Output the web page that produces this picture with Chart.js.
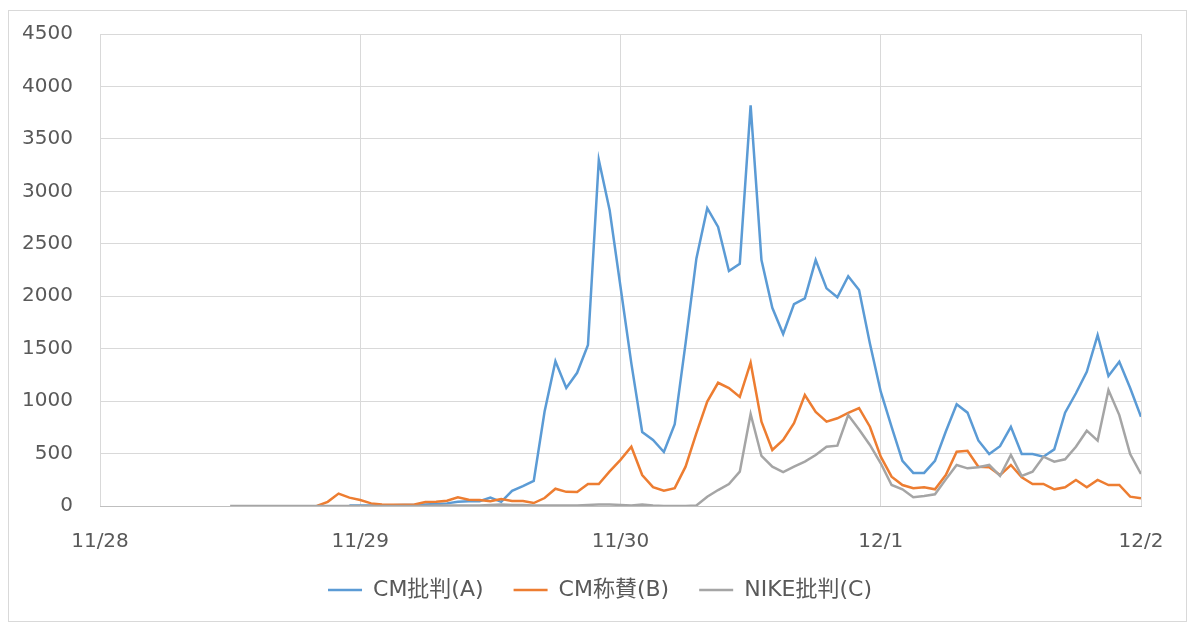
<!DOCTYPE html>
<html>
<head>
<meta charset="utf-8">
<script src="https://cdn.jsdelivr.net/npm/chart.js@4"></script>
<style>
  body { margin: 0; background: #fff; }
  #wrap { position: relative; width: 1200px; height: 630px; }
  #frame { position: absolute; left: 8px; top: 10px; width: 1177px; height: 610px; border: 1px solid #d9d9d9; pointer-events: none; }
</style>
</head>
<body>
<div id="wrap">
  <canvas id="chart" width="1200" height="630"></canvas>
  <div id="frame"></div>
</div>
<script>
// hourly counts, 11/28 0:00 .. 12/2 0:00 (97 points)
const dayLabels = ['11/28', '11/29', '11/30', '12/1', '12/2'];
const seriesNames = ['CM批判(A)', 'CM称賛(B)', 'NIKE批判(C)'];

const cmCritic = [
  null, null, null, null, null, null, null, null, null, null, null, null,
  null, null, null, null, null, null, null, null, null, null, null, 5,
  5, 5, 5, 8, 10, 10, 15, 20, 25, 40, 45, 45,
  80, 40, 145, 190, 240, 900, 1380, 1125, 1270, 1535, 3300, 2820,
  2090, 1360, 705, 630, 515, 780, 1550, 2360, 2840, 2660, 2240, 2310,
  3820, 2345, 1890, 1640, 1925, 1980, 2345, 2075, 1990, 2190, 2060, 1550,
  1090, 755, 430, 315, 315, 430, 710, 970, 890, 625, 495, 570,
  755, 495, 495, 470, 540, 890, 1075, 1280, 1630, 1240, 1375, 1125,
  850
];
const cmPraise = [
  null, null, null, null, null, null, null, null, null, null, null, null,
  null, null, null, null, null, null, null, null, 0, 40, 118, 80,
  57, 25, 15, 12, 12, 15, 38, 40, 50, 83, 60, 57,
  45, 67, 48, 48, 28, 76, 165, 135, 133, 210, 210, 330,
  440, 565, 295, 180, 146, 170, 375, 695, 995, 1175, 1125, 1040,
  1366, 804, 534, 630, 790, 1058, 896, 804, 836, 888, 934, 756,
  470, 280, 200, 169, 178, 159, 295, 518, 527, 375, 369, 295,
  391, 273, 210, 210, 159, 178, 248, 178, 248, 200, 200, 89,
  73
];
const nikeCritic = [
  null, null, null, null, null, null, null, null, null, null, null, null,
  0, 0, 0, 0, 0, 0, 0, 0, 0, 0, 0, 0,
  0, 0, 0, 0, 0, 0, 0, 5, 5, 5, 5, 5,
  10, 15, 10, 10, 5, 5, 5, 5, 5, 10, 15, 15,
  10, 5, 15, 5, 0, 0, 0, 5, 89, 152, 210, 327,
  877, 477, 375, 324, 375, 423, 486, 565, 575, 867, 730, 582,
  407, 200, 159, 83, 95, 111, 254, 391, 359, 369, 391, 286,
  486, 286, 327, 470, 423, 445, 565, 718, 623, 1106, 867, 496,
  305
];
const seriesColors = ['#5b9bd5', '#ed7d31', '#a5a5a5'];

const toPoints = arr => arr.map((v, i) => ({ x: i, y: v }));
const fontFamily = "'DejaVu Sans', 'Noto Sans CJK JP', sans-serif";

const datasets = [cmCritic, cmPraise, nikeCritic].map((arr, i) => ({
  label: seriesNames[i],
  data: toPoints(arr),
  borderColor: seriesColors[i],
  backgroundColor: seriesColors[i],
  borderWidth: 2.5,
  pointRadius: 0,
  tension: 0,
  spanGaps: false
})).reverse(); // gray drawn first, blue on top

// fixed legend height, and center it on the whole canvas
const legendBox = {
  id: 'legendBox',
  beforeInit(chart) {
    const lg = chart.legend;
    if (!lg) return;
    const fit = lg.fit.bind(lg);
    lg.fit = function () { fit(); this.height = 60; };
  },
  afterLayout(chart) {
    const lg = chart.legend;
    if (!lg) return;
    lg.left = 0;
    lg.right = chart.width;
    lg.width = chart.width;
  }
};

new Chart(document.getElementById('chart'), {
  type: 'line',
  data: { datasets },
  plugins: [legendBox],
  options: {
    responsive: false,
    animation: false,
    layout: { padding: { top: 34, left: 8, right: 59, bottom: 21 } },
    plugins: {
      legend: {
        position: 'bottom',
        reverse: true,
        labels: {
          usePointStyle: true,
          pointStyle: 'line',
          pointStyleWidth: 34,
          color: '#595959',
          font: { family: fontFamily, size: 22 },
          padding: 30
        }
      },
      tooltip: { enabled: false }
    },
    scales: {
      x: {
        type: 'linear',
        min: 0,
        max: 96,
        afterFit: s => { s.height = 43; },
        grid: { color: '#d9d9d9', lineWidth: 1, drawTicks: false },
        border: { color: '#bfbfbf', width: 1 },
        ticks: {
          stepSize: 24,
          padding: 24,
          color: '#595959',
          font: { family: fontFamily, size: 20 },
          callback: v => dayLabels[v / 24]
        }
      },
      y: {
        min: 0,
        max: 4500,
        afterFit: s => { s.width = 92; s.paddingTop = 4; },
        grid: { color: '#d9d9d9', lineWidth: 1, drawTicks: false },
        border: { display: false },
        ticks: {
          stepSize: 500,
          padding: 27,
          color: '#595959',
          font: { family: fontFamily, size: 20 },
          callback: v => String(v)
        }
      }
    }
  }
});
</script>
</body>
</html>
